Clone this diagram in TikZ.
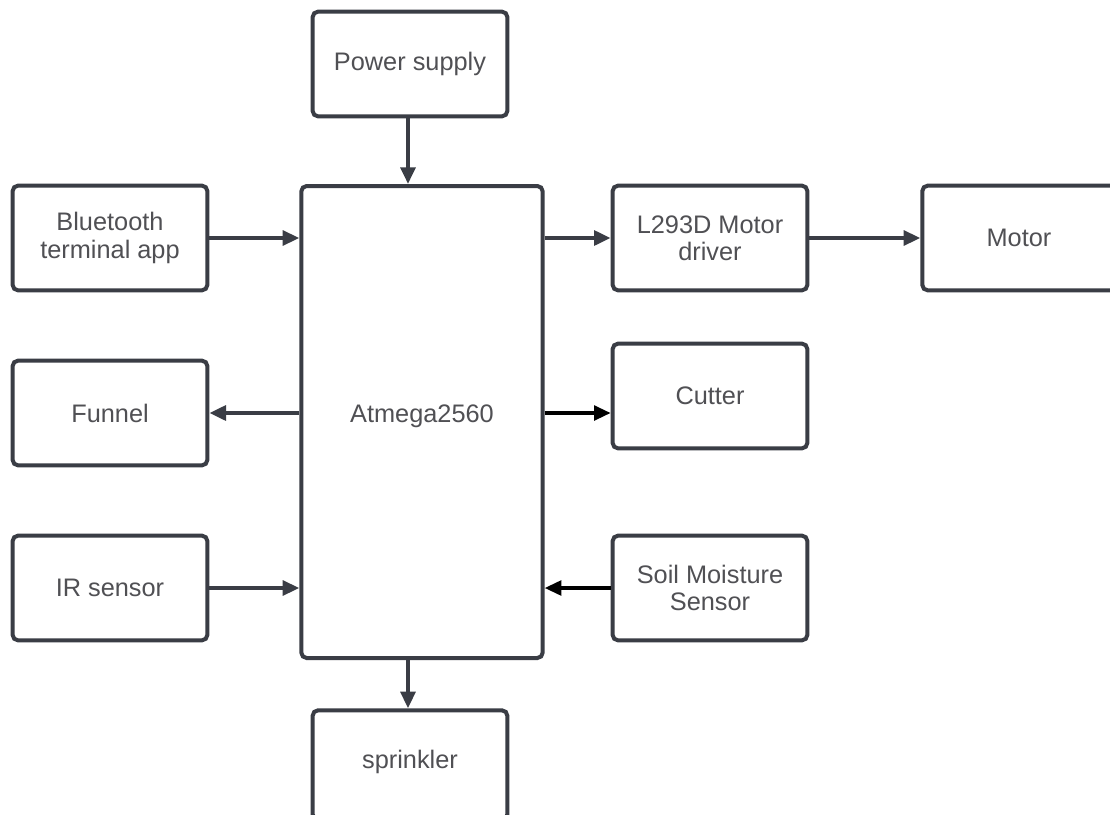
\documentclass[tikz,border=0pt]{standalone}
\usepackage{fontspec}
\setmainfont{Liberation Sans}
\usetikzlibrary{arrows.meta}
\definecolor{boxline}{RGB}{58,61,69}
\definecolor{txtcol}{RGB}{80,80,84}
\tikzset{
  blk/.style={draw=boxline, line width=3pt, rounded corners=4pt, fill=white,
    minimum width=146pt, minimum height=78.5pt, inner sep=0pt,
    align=center, text=txtcol, font=\fontsize{19}{20.5}\selectfont},
  lbl/.style={text=txtcol, font=\fontsize{19}{20.5}\selectfont, inner sep=0pt},
  conn/.style={draw=boxline, line width=3pt, -{Triangle[length=12.5pt,width=11pt]}},
  connk/.style={draw=black, line width=2.6pt, -{Triangle[length=12.5pt,width=11pt]}}
}
\begin{document}
\begin{tikzpicture}[x=0.75pt,y=-0.75pt]
\useasboundingbox[fill=white] (0,0) rectangle (1110,814);
\node[blk] (power) at (410,64) {Power supply};
\node[blk, minimum width=181pt, minimum height=354pt] (atmega) at (422,422) {};
\node[lbl] (atmegalabel) at (422,416) {Atmega2560};
\node[blk] (bt) at (110,238) {Bluetooth\\terminal app};
\node[blk] (l293) at (710,238) {L293D Motor\\driver};
\node[blk, minimum width=145pt] (motor) at (1019,238) {Motor};
\node[blk] (funnel) at (110,413) {Funnel};
\node[blk] (cutter) at (710,396) {Cutter};
\node[blk] (ir) at (110,588) {IR sensor};
\node[blk] (soil) at (710,588) {Soil Moisture\\Sensor};
\node[blk, minimum height=82pt, text depth=0pt] (sprinkler) at (410,765) {};
\node[lbl] (sprinklerlabel) at (410,762) {sprinkler};
\coordinate (pin) at (408,0);
\draw[conn] (power.south -| pin) -- (atmega.north -| pin);
\draw[conn] (atmega.south -| pin) -- (sprinkler.north -| pin);
\draw[conn] (bt.east) -- (bt.east -| atmega.west);
\draw[conn] (atmega.east |- l293.west) -- (l293.west);
\draw[conn] (l293.east) -- (motor.west);
\draw[conn] (atmega.west |- funnel.east) -- (funnel.east);
\draw[connk] (atmega.east |- funnel.east) -- (cutter.west |- funnel.east);
\draw[conn] (ir.east) -- (ir.east -| atmega.west);
\draw[connk] (soil.west) -- (soil.west -| atmega.east);
\end{tikzpicture}
\end{document}
